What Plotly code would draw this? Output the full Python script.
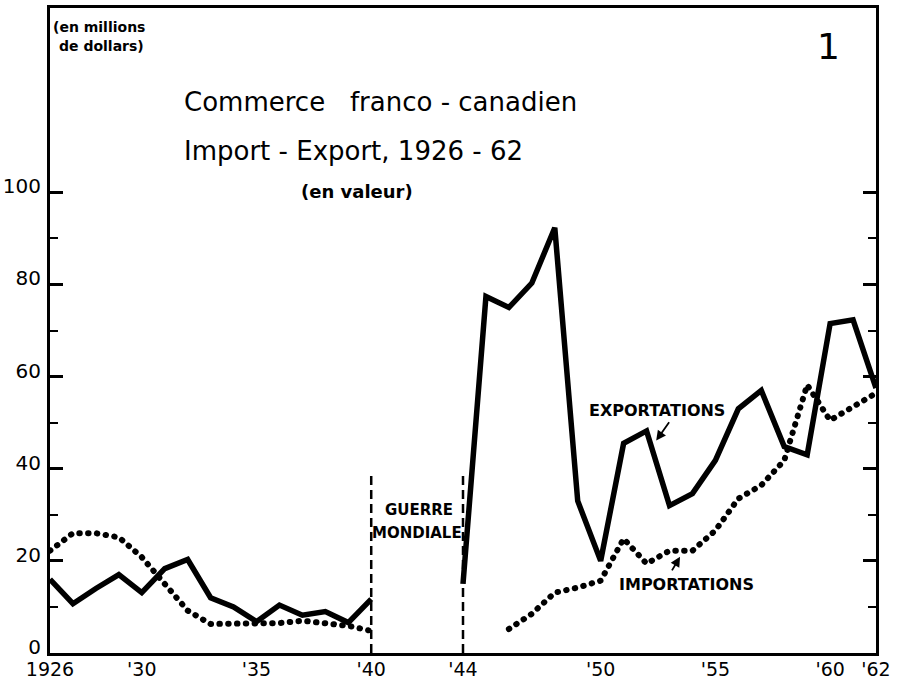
import plotly.graph_objects as go

# ---- data (millions of dollars) ----
years = list(range(1926, 1963))
exports = [16, 10.7, 14, 17, 13.1, 18.3, 20.3, 12, 10, 6.8, 10.4, 8.2, 9, 6.6, 11.7,
           None, None, None,
           15, 77.4, 75, 80.3, 92.3, 33, 20, 45.5, 48.2, 32, 34.6, 41.8, 53, 57, 44.8, 43,
           71.5, 72.3, 57.5]
imports = [22.2, 26, 26, 25.1, 20.8, 15, 9.2, 6.3, 6.3, 6.3, 6.5, 7, 6.3, 5.9, 4.8,
           None, None, None, None, None,
           5.2, 8.5, 13.1, 14.2, 15.7, 24.8, 19.4, 22.2, 22.2, 26.6, 33.5, 36.4, 41.8,
           58.2, 50.5, 53.4, 56.4]

x_tickvals = [1926, 1930, 1935, 1940, 1944, 1950, 1955, 1960, 1962]
x_ticktext = ["1926", "'30", "'35", "'40", "'44", "'50", "'55", "'60", "'62"]
y_tickvals = [0, 20, 40, 60, 80, 100]
y_minorvals = [10, 30, 50, 70, 90]

war_years = [1940, 1944]
war_line_tops = [39.5, 38.5]

FONT = "DejaVu Sans"

fig = go.Figure()
fig.add_trace(go.Scatter(x=years, y=imports, mode="lines", uid="imports",
                         line=dict(color="black", width=6, dash="0.5px,8.3px"),
                         connectgaps=False, hoverinfo="skip", showlegend=False))
fig.add_trace(go.Scatter(x=years, y=exports, mode="lines", uid="exports",
                         line=dict(color="black", width=5.5),
                         connectgaps=False, hoverinfo="skip", showlegend=False))

for wy, top in zip(war_years, war_line_tops):
    fig.add_shape(type="line", xref="x", yref="y", x0=wy, x1=wy, y0=0, y1=top,
                  line=dict(color="black", width=2.5, dash="9px,5px"))

def txt(x, y, s, size, bold=False, xanchor="center"):
    fig.add_annotation(x=x, y=y, xref="x", yref="y", text=("<b>%s</b>" % s) if bold else s,
                       showarrow=False, xanchor=xanchor, yanchor="middle",
                       font=dict(family=FONT, size=size, color="black"))

txt(1926.05, 135.9, "(en millions", 14, bold=True, xanchor="left")
txt(1926.3, 131.7, "de dollars)", 14, bold=True, xanchor="left")
txt(1931.75, 119.6, "Commerce   franco - canadien", 26, xanchor="left")
txt(1931.75, 108.9, "Import - Export, 1926 - 62", 26, xanchor="left")
txt(1939.38, 100.2, "(en valeur)", 18, bold=True)
txt(1959.92, 131.7, "1", 36)
txt(1942.1, 31.1, "GUERRE", 15, bold=True)
txt(1942.0, 26.1, "MONDIALE", 15, bold=True)
txt(1952.46, 52.7, "EXPORTATIONS", 16, bold=True)
txt(1953.72, 14.8, "IMPORTATIONS", 16, bold=True)

for hx, hy, tx, ty in [(1952.42, 46.1, 1953.03, 50.4), (1953.46, 20.9, 1953.07, 17.6)]:
    fig.add_annotation(x=hx, y=hy, ax=tx, ay=ty, xref="x", yref="y", axref="x", ayref="y",
                       text="", showarrow=True, arrowhead=2, arrowsize=1.1,
                       arrowwidth=1.8, arrowcolor="black")

fig.update_xaxes(range=[1926, 1962], tickvals=x_tickvals, ticktext=x_ticktext,
                 showline=True, linewidth=3, linecolor="black", mirror=True,
                 ticks="", showgrid=False, zeroline=False, automargin=False,
                 ticklabelstandoff=-3,
                 tickfont=dict(family=FONT, size=19, color="black"))
fig.update_yaxes(range=[0, 140], tickvals=y_tickvals,
                 showline=True, linewidth=3, linecolor="black", mirror="ticks",
                 ticks="inside", ticklen=13, tickwidth=2.5, tickcolor="black",
                 minor=dict(tickvals=y_minorvals, ticks="inside", ticklen=8,
                            tickwidth=2, tickcolor="black", showgrid=False),
                 showgrid=False, zeroline=False, automargin=False,
                 ticklabelshift=-6, ticklabelstandoff=2,
                 tickfont=dict(family=FONT, size=20, color="black"))

fig.update_layout(width=900, height=682, margin=dict(l=50, r=24, t=8, b=29),
                  paper_bgcolor="white", plot_bgcolor="white")

post = """
document.body.style.margin = '0';
var s = document.createElement('style');
s.textContent = '.traceimports path.js-line{stroke-linecap:round !important;}';
document.head.appendChild(s);
"""
fig.write_html("out.html", post_script=post, config={"displayModeBar": False})
